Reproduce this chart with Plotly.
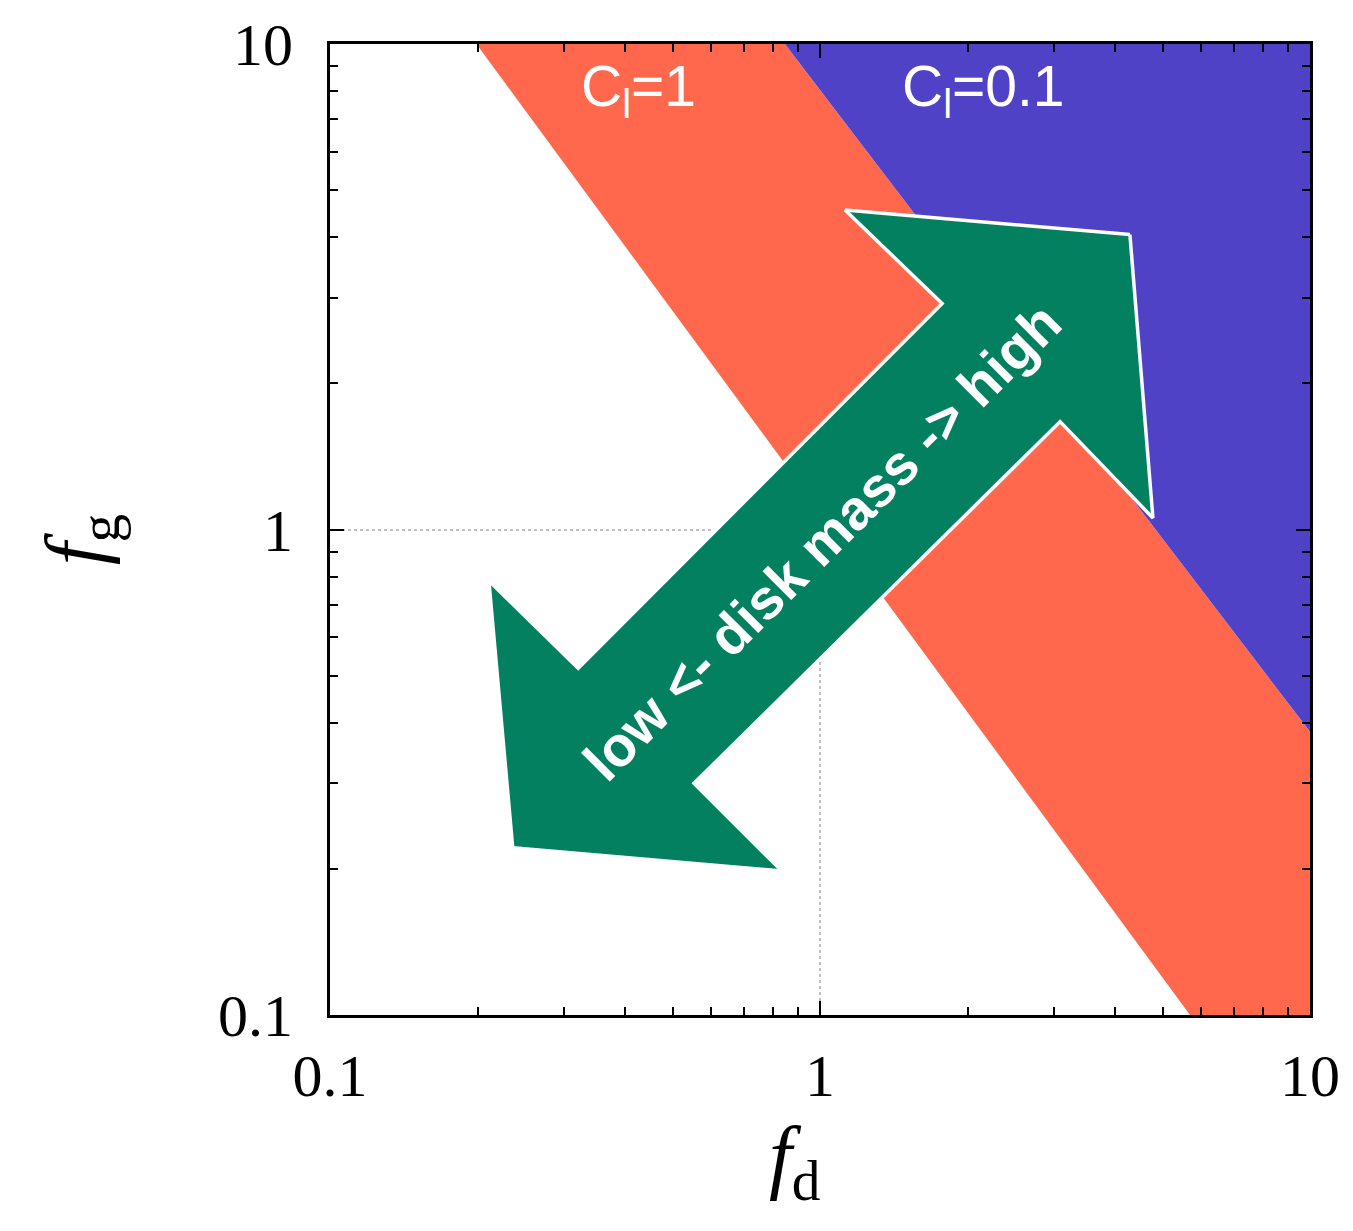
import plotly.graph_objects as go

# Boundary of the C_l = 1 band (lower-left edge) and C_l = 0.1 region (upper-right edge)
red_x = [0.199, 0.848, 10.0, 10.0, 5.69]
red_y = [10.0, 10.0, 0.383, 0.1, 0.1]
blue_x = [0.848, 10.0, 10.0]
blue_y = [10.0, 10.0, 0.383]

# Double-headed arrow outline (f_d, f_g)
arrow_x = [4.29, 4.78, 3.09, 0.553, 0.836, 0.236, 0.211, 0.321, 1.775, 1.125, 4.29]
arrow_y = [4.05, 1.056, 1.668, 0.300, 0.198, 0.221, 0.784, 0.518, 2.92, 4.55, 4.05]

tick_vals = [0.1, 1, 10]
tick_text = ["0.1", "1", "10"]
minor_vals = [0.2, 0.3, 0.4, 0.5, 0.6, 0.7, 0.8, 0.9, 2, 3, 4, 5, 6, 7, 8, 9]

RED = "#FF684C"
BLUE = "#4F42C6"
GREEN = "#028060"

fig = go.Figure()
fig.add_trace(go.Scatter(x=red_x, y=red_y, fill="toself", fillcolor=RED,
                         line=dict(width=0, color=RED), mode="lines",
                         hoverinfo="skip", showlegend=False))
fig.add_trace(go.Scatter(x=blue_x, y=blue_y, fill="toself", fillcolor=BLUE,
                         line=dict(width=0, color=BLUE), mode="lines",
                         hoverinfo="skip", showlegend=False))
fig.add_trace(go.Scatter(x=arrow_x, y=arrow_y, fill="toself", fillcolor=GREEN,
                         line=dict(width=3.5, color="white"), mode="lines",
                         hoverinfo="skip", showlegend=False))

sans = "Liberation Sans, Arial, sans-serif"
serif = "Liberation Serif, Times New Roman, serif"

# log10 positions for annotations on log axes
fig.add_annotation(x=-0.371, y=0.905, xref="x", yref="y", text="C<sub>l</sub>=1",
                   showarrow=False, font=dict(family=sans, size=57, color="white"))
fig.add_annotation(x=0.333, y=0.905, xref="x", yref="y", text="C<sub>l</sub>=0.1",
                   showarrow=False, font=dict(family=sans, size=57, color="white"))
fig.add_annotation(x=0.004, y=-0.024, xref="x", yref="y",
                   text="<b>low &lt;- disk mass -&gt; high</b>",
                   textangle=-45, showarrow=False,
                   font=dict(family=sans, size=56, color="white"))

# axis titles as annotations
fig.add_annotation(x=0.474, y=-0.150, xref="paper", yref="paper",
                   xanchor="center", yanchor="middle",
                   text="<i>f</i><sub>d</sub>", showarrow=False,
                   font=dict(family=serif, size=82, color="black"))
fig.add_annotation(x=-0.255, y=0.49, xref="paper", yref="paper",
                   xanchor="center", yanchor="middle",
                   text="<i>f</i><sub>g</sub>", textangle=-90, showarrow=False,
                   font=dict(family=serif, size=82, color="black"))

axis_common = dict(
    type="log", range=[-1, 1], tickvals=tick_vals, ticktext=tick_text,
    ticks="inside", ticklen=14, tickwidth=2, tickcolor="black",
    showline=True, linewidth=3, linecolor="black", mirror="ticks",
    showgrid=True, gridcolor="#c0c0c0", griddash="dot", gridwidth=1.5,
    zeroline=False,
    tickfont=dict(family=serif, size=60, color="black"),
    minor=dict(tickvals=minor_vals, ticks="inside", ticklen=8, tickwidth=2,
               tickcolor="black", showgrid=False),
)

fig.update_xaxes(**axis_common, ticklabelstandoff=6)
fig.update_yaxes(**axis_common, ticklabelstandoff=22)

fig.update_layout(
    width=1353, height=1231,
    margin=dict(l=330, r=43, t=38, b=216),
    plot_bgcolor="white", paper_bgcolor="white",
)

fig.write_html("out.html")
